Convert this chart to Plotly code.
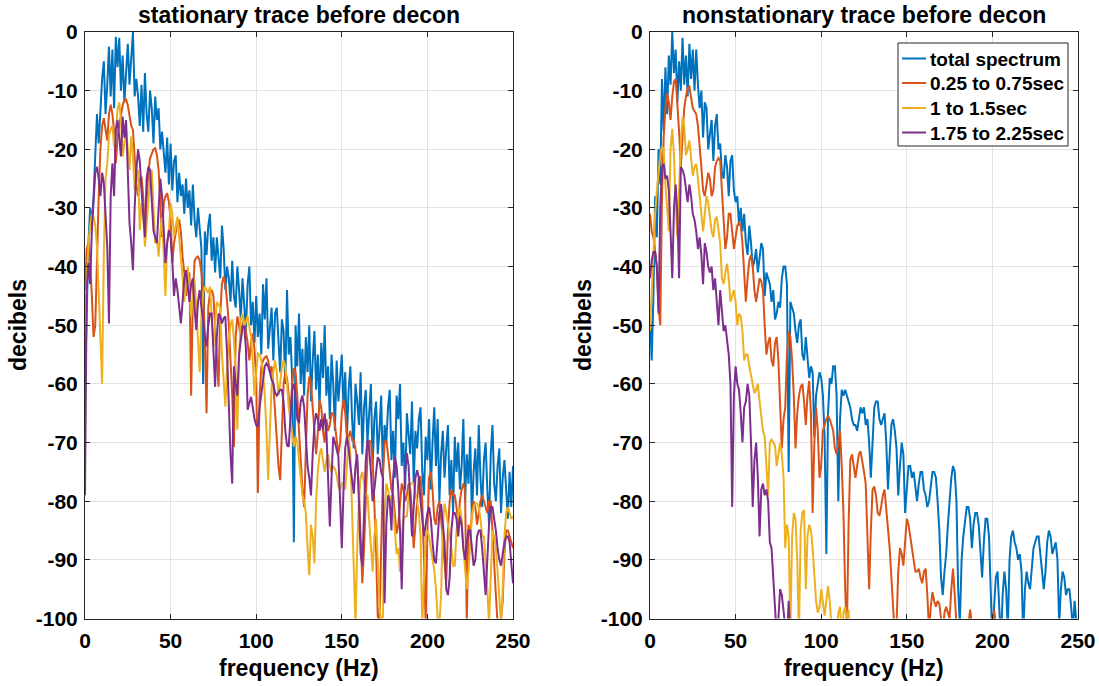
import plotly.graph_objects as go

# frequency grid (Hz), 1 Hz spacing
freq = list(range(0, 251))

# ---------------- stationary trace (left panel) ----------------
stat_total = [
    -60, -48, -36, -30, -33, -28, -22, -14, -19, -12,
    -8, -5, -14, -9, -2.5, -11, -3, -13, -0.8, -6,
    -1, -10, -4, -12, -7, -2, -9, -5, 0, -11,
    -8, -11, -16, -9, -17, -7, -14, -17, -10, -13,
    -19, -11, -15, -13, -20, -17, -20, -24, -18, -26,
    -19, -27, -22, -21, -29, -24, -28, -26, -31, -25,
    -30, -27, -33, -26, -32, -35, -30, -33, -37, -60,
    -34, -38, -33, -31, -39, -35, -41, -35, -39, -42,
    -33, -37, -44, -40, -42, -46, -39, -45, -47, -40,
    -44, -49, -42, -47, -51, -43, -40, -50, -46, -53,
    -45, -52, -48, -55, -43, -49, -42, -54, -50, -47,
    -56, -48, -47, -53, -58, -49, -51, -60, -44, -55,
    -52, -59, -87, -50, -57, -48, -60, -54, -62, -52,
    -58, -50, -63, -56, -51, -61, -55, -64, -53, -59,
    -50, -62, -57, -66, -55, -60, -68, -56, -63, -59,
    -55, -64, -58, -69, -61, -57, -66, -71, -60, -63,
    -67, -58, -72, -64, -61, -70, -65, -60, -74, -66,
    -63, -72, -68, -62, -75, -67, -70, -64, -61, -73,
    -68, -76, -62, -66, -60, -74, -70, -78, -65, -69,
    -72, -63, -77, -68, -71, -66, -64, -75, -79, -69,
    -73, -66, -78, -70, -64, -74, -66, -80, -72, -68,
    -76, -71, -67, -79, -73, -82, -69, -75, -70, -78,
    -74, -66, -80, -72, -77, -69, -83, -75, -71, -79,
    -67, -76, -81, -73, -70, -78, -84, -72, -67, -77,
    -80, -74, -71, -82, -76, -73, -79, -83, -75, -81,
    -74,
]

stat_early = [
    -44, -37, -36, -39, -45, -52, -50, -38, -28, -20,
    -16, -14.7, -17, -18.5, -14, -12.4, -14, -17, -22.4, -18,
    -16, -14, -12.5, -11.6, -11.5, -12.5, -14.4, -16, -16.7, -22,
    -26, -28, -25, -24.7, -28, -33.8, -28, -24, -21.5, -20.7,
    -20, -19.8, -21, -23.5, -29, -35, -29.2, -28, -27.5, -29,
    -32, -39.4, -36, -33.8, -32.5, -32, -34, -38.3, -41, -45,
    -42, -41, -62, -45, -39, -38.5, -38.3, -39, -41, -44,
    -52, -65, -47, -44.5, -44, -45, -50, -55, -60.5, -48,
    -43, -41.7, -43, -46, -49.7, -56, -62, -70.7, -52, -48.5,
    -50, -52.5, -50, -49, -51, -53, -56, -53, -51.4, -54,
    -59.3, -78.6, -62, -57, -56, -55.5, -55.3, -56, -58, -57,
    -60, -65, -70, -74, -76.4, -66, -60, -58, -59, -62,
    -66, -60, -57.3, -58, -62, -68, -74, -78, -81, -72,
    -62, -58.75, -60, -64, -68, -72, -68.4, -62.7, -64, -68,
    -70, -66, -68, -67, -65, -65, -67, -70, -72, -70,
    -65, -62.7, -65, -69, -69, -68, -69.6, -69.6, -71, -73.5,
    -78, -86, -94, -88, -80, -72, -69.6, -70, -73, -80,
    -88, -99.7, -101, -88, -76, -70, -69.6, -72, -75, -78,
    -79, -82, -85.5, -84, -80, -77, -78, -80, -79, -77,
    -78, -82, -88, -84, -79, -76, -75.8, -80, -90, -101,
    -85, -76, -75, -78, -83, -84, -81, -80, -83, -87,
    -91, -94, -85, -80, -78, -79, -79, -81, -84, -80,
    -78, -77, -78, -101, -84, -86, -82, -80, -81, -84,
    -82, -80, -79, -80, -81, -82, -80, -80, -85, -92,
    -96, -101, -103, -100, -97, -89, -85, -85, -86, -87,
    -88,
]

stat_mid = [
    -50, -44, -36, -33, -31, -31.5, -33, -36.6, -45, -54,
    -60, -38, -25, -22.4, -17.8, -16.5, -16, -19.5, -17, -13.3,
    -12, -15, -21.2, -19, -16.7, -20, -23.5, -17.8, -21, -27,
    -25, -23.5, -33.8, -29.2, -31, -36.6, -33, -29.2, -25, -23.5,
    -29, -36, -35, -38.3, -34, -31.5, -38, -45, -36, -33.8,
    -29.2, -31, -34.9, -33, -31.5, -35, -39.4, -42, -46, -43,
    -40, -44, -48.5, -45, -42.3, -47, -52, -58, -48, -44.5,
    -43.4, -44, -44.5, -43.4, -48, -53.6, -50, -46, -46.5, -47,
    -55, -60, -63.9, -57, -52.5, -50, -49, -52.5, -58, -67.8,
    -55, -49, -48, -50, -49.5, -48.4, -50, -52, -56, -62,
    -58, -54.8, -55, -56, -58, -62, -68, -76.4, -68, -60.5,
    -58, -56, -58, -62, -60, -57, -56, -57, -60, -64,
    -66, -68, -70.7, -69, -70, -73, -76, -79, -80, -82,
    -88, -92.6, -84, -86, -90.6, -80, -75, -72, -71, -73,
    -75, -73, -72, -74, -75, -74, -74.5, -75.5, -77.5, -78,
    -77, -77, -78, -74, -69, -72, -82, -92, -101, -88,
    -80, -76, -75, -77, -79, -79, -83, -88, -92, -86,
    -83, -90, -98, -101, -99.7, -82, -77, -78, -80, -79,
    -81, -85, -89, -88, -92, -86, -83, -82.6, -82.6, -79,
    -77, -77, -77, -79, -80, -82, -86, -101, -92, -86,
    -85, -86, -88, -90, -91.7, -95, -100, -101, -96, -84,
    -80.4, -82, -84, -86, -88, -91, -91, -85, -82, -81,
    -83, -88, -92, -95, -92, -86, -82.6, -81, -80.4, -80.4,
    -81, -83, -86, -86, -90, -95, -101, -92, -85, -86,
    -88, -92, -96, -101, -95, -86, -82, -81, -82, -83,
    -82.6,
]

stat_late = [
    -79, -44, -39.4, -43, -33.8, -28, -24, -23, -25, -28,
    -24, -25.8, -32, -36.6, -49.7, -28, -22.4, -28, -16.7, -15,
    -18, -21.2, -14.4, -18, -15, -24, -32.6, -36, -40.6, -30,
    -23.5, -20, -22, -27, -31, -35, -25, -23, -23.5, -28,
    -33.8, -35, -36, -30, -25, -28, -34, -39.4, -36, -33.8,
    -35, -39, -45, -42, -44, -47, -49.7, -46, -42, -40.6,
    -44, -46, -43, -42, -47, -50.8, -46, -44, -47, -49,
    -52, -53.6, -50, -48, -48, -55, -60.5, -52, -48, -48.5,
    -49.7, -48.8, -48.5, -55, -65, -72, -77, -57, -60, -62,
    -55, -52.5, -50.2, -50.2, -54, -64.4, -63, -62.2, -64, -66,
    -67, -67.3, -64, -61.6, -59, -57, -56.5, -57, -58, -59.3,
    -60, -61.5, -62, -61.5, -61, -61, -63, -68, -70.5, -70.7,
    -66, -61, -60, -62, -66, -66.7, -63, -62, -64, -69,
    -74, -76, -79, -72, -67, -65, -66, -68, -66, -67.8,
    -65, -68, -76, -84.3, -76, -69, -70, -71, -72.4, -80,
    -88, -78, -71, -69, -71, -74, -77, -78.7, -74, -72,
    -80, -89, -91, -82, -73, -69.6, -71, -75, -80, -78,
    -75, -72.5, -73, -75, -76, -97.4, -84, -79, -80, -85,
    -76, -72.4, -74, -78, -85, -95, -83, -75, -71.8, -74,
    -80, -86, -81, -76, -74.7, -76, -80, -83, -86, -84,
    -82, -81, -83, -87, -90, -90.6, -86, -82, -80.5, -84,
    -87, -95, -96, -93, -85, -82, -82, -83, -86, -82.6,
    -84, -88, -90, -87, -85, -85, -88, -91, -90, -86,
    -85, -85, -88, -93, -96, -90, -84, -81, -81, -83,
    -85, -88, -90, -91, -89, -87, -86, -86, -87, -90,
    -94,
]

# ---------------- nonstationary trace (right panel) ----------------
nonstat_total = [
    -48, -56, -45, -28, -35, -20, -26, -8, -17, -6,
    -14, -4, -9, 0, -7, -3, -12, -5, -10, -1,
    -9, -4, -11, -2, -8, -3, -10, -3, -9, -13,
    -10, -18, -12, -13, -20, -17, -15, -22, -16, -14,
    -20, -19, -24, -25, -21, -23, -28, -22, -21, -27,
    -29, -28, -33, -30, -34, -31, -36, -38, -33, -36,
    -40, -39, -37, -41, -38, -36, -37, -45, -41, -42,
    -43, -46, -44, -49, -48, -46, -47, -42, -40, -40,
    -43, -75, -46, -47, -48, -51, -53, -50, -49, -55,
    -56, -52, -55, -59, -57, -58, -69, -62, -60, -58,
    -59, -62, -69, -89, -65, -59, -60, -57, -57, -62,
    -80, -66, -61, -62, -61, -62, -63, -64, -66, -67,
    -67, -68, -66, -64, -65, -64, -67, -66, -70, -76,
    -70, -64, -63, -63, -66, -67, -66, -65, -70, -78,
    -72, -67, -66, -68, -71, -79, -74, -70, -72, -82,
    -78, -74, -74, -76, -75, -78, -80, -77, -75, -75,
    -78, -79, -81, -80, -77, -75, -75, -76, -80, -85,
    -93, -96, -92, -89, -84, -79, -76, -74, -75, -80,
    -95, -101, -90, -86, -83, -81, -81, -83, -88, -84,
    -82, -82, -84, -88, -93, -87, -83, -83, -86, -95,
    -104, -98, -93, -92, -97, -104, -96, -92, -95, -102,
    -90, -86, -85, -87, -88, -90, -89, -92, -103, -95,
    -92, -94, -95, -91, -88, -87, -86, -86, -89, -92,
    -95, -92, -87, -85, -86, -89, -88, -87, -90, -101,
    -95, -92, -93, -96, -95, -95, -98, -102, -97, -101,
    -104,
]

nonstat_early = [
    -31, -34, -35, -38, -40, -47, -50, -28, -18, -13,
    -10.5, -12, -15, -11, -8.5, -8, -12, -17, -23, -17,
    -13, -11, -9.5, -9.3, -11, -13, -13.5, -14, -16, -19,
    -23, -27, -28, -26, -24, -25, -28, -27, -23, -22,
    -21.5, -22, -27, -33, -37, -35, -31, -31, -34, -37,
    -35, -33, -32.5, -33, -36, -42, -46, -42, -39, -38,
    -40, -44, -46, -44, -42, -42.5, -44, -50, -55, -53,
    -52, -56, -57, -53, -52, -56, -65, -71, -66, -64,
    -55, -51, -52, -56, -62, -71, -65, -62, -60.5, -60,
    -63, -67, -62, -59.5, -65, -82, -70, -64, -68, -76,
    -74, -68, -67, -66, -65.5, -66, -67, -68, -71, -72,
    -70, -68, -74, -82, -95, -102, -84, -73, -72, -74,
    -76, -74, -72, -71.5, -73, -75, -77, -85, -95, -85,
    -78, -77.5, -79, -82, -82.5, -81, -79, -78, -81, -85,
    -88, -93, -98, -103, -101, -92, -88, -89, -91, -86,
    -83, -84, -86, -88, -90, -92, -92, -91.5, -93, -94,
    -92, -91.5, -96, -102, -98, -95.5, -97, -98, -97, -97.5,
    -100, -103, -99, -98, -99, -100, -95, -91.5, -96, -103,
    -106, -106, -105, -104, -106, -104, -101, -98.5, -101, -105,
    -107, -107, -106, -106, -107, -107, -106, -106, -105, -104,
    -104, -98.5, -101, -106,
]

nonstat_mid = [
    -51, -44, -37, -31, -27, -24, -21, -19.5, -20, -26,
    -31, -34, -20, -16.5, -21, -30, -35, -26, -19, -14.5,
    -16, -21, -20, -18.5, -21, -24.5, -23, -22.5, -25, -28,
    -31, -34, -31, -28, -29, -31.5, -34, -35, -32, -31.5,
    -34, -36, -42, -43, -41, -39.5, -42, -46, -45, -44,
    -46, -50, -48, -48.5, -51, -56, -55, -55, -57, -58.6,
    -60, -61.6, -61, -60, -63, -66, -68, -69, -74, -79,
    -70, -69.5, -70, -70.5, -74, -72, -70, -72, -76, -88,
    -84, -86, -102, -86, -82, -83, -90, -103, -85, -82,
    -81.5, -95, -86, -84, -85, -88, -93, -97, -99, -98,
    -95, -97, -99.5, -97, -94.5, -97, -103, -106, -106, -104,
    -99, -98, -103, -99, -98, -101, -98.5, -104,
]

nonstat_late = [
    -42, -39, -37.5, -37.5, -40, -48, -30, -23, -22.5, -25,
    -24.5, -27, -34, -42, -30, -26, -31, -42, -23, -23.5,
    -24.5, -27, -29, -26, -28, -31, -32, -34, -37, -35,
    -38, -43, -36, -37.5, -40, -41, -40, -44, -42, -46,
    -50, -44, -48, -51, -50, -53, -55, -60, -81, -62,
    -57, -60, -61, -65, -70, -64, -63, -60, -62, -70,
    -81, -73, -70, -76, -86, -78, -77, -79, -78, -80,
    -87, -88, -93, -97, -103, -100, -95, -96, -99, -102,
    -104, -97, -103,
]

series_names = ["total spectrum", "0.25 to 0.75sec", "1 to 1.5sec", "1.75 to 2.25sec"]
series_colors = ["#0072BD", "#D95319", "#EDB120", "#7E2F8E"]

left_data = [stat_total, stat_early, stat_mid, stat_late]
right_data = [nonstat_total, nonstat_early, nonstat_mid, nonstat_late]

FONT = "Liberation Sans, Arial, Helvetica, sans-serif"
W, H = 1099, 686

fig = go.Figure()
for vals, name, col in zip(left_data, series_names, series_colors):
    fig.add_trace(go.Scatter(x=freq[:len(vals)], y=vals, mode="lines", name=name,
                             line=dict(color=col, width=2), showlegend=False,
                             xaxis="x", yaxis="y"))
for vals, name, col in zip(right_data, series_names, series_colors):
    fig.add_trace(go.Scatter(x=freq[:len(vals)], y=vals, mode="lines", name=name,
                             line=dict(color=col, width=2), showlegend=False,
                             xaxis="x2", yaxis="y2"))

xticks = [0, 50, 100, 150, 200, 250]
yticks = list(range(-100, 1, 10))

def xax(domain, anchor):
    return dict(domain=domain, anchor=anchor, range=[0, 250], tickvals=xticks,
                ticktext=[str(v) for v in xticks], showgrid=True, gridcolor="#e2e2e2",
                gridwidth=1, showline=True, linecolor="#262626", linewidth=1,
                mirror="ticks", ticks="inside", ticklen=5, tickcolor="#262626",
                zeroline=False, ticklabelstandoff=3, automargin=False,
                tickfont=dict(family=FONT, size=21, color="#000000", weight="bold"))

def yax(domain, anchor):
    return dict(domain=domain, anchor=anchor, range=[-100, 0], tickvals=yticks,
                ticktext=[str(v) for v in yticks], showgrid=True, gridcolor="#e2e2e2",
                gridwidth=1, showline=True, linecolor="#262626", linewidth=1,
                mirror="ticks", ticks="inside", ticklen=5, tickcolor="#262626",
                zeroline=False, ticklabelstandoff=2, automargin=False,
                tickfont=dict(family=FONT, size=21, color="#000000", weight="bold"))

ydom = [1 - 618.5 / H, 1 - 32 / H]
x1dom = [85 / W, 513 / W]
x2dom = [650 / W, 1078 / W]

fig.update_layout(
    template="none",
    width=W, height=H, margin=dict(l=0, r=0, t=0, b=0, pad=0, autoexpand=False),
    paper_bgcolor="white", plot_bgcolor="white",
    font=dict(family=FONT, color="#000000"),
    xaxis=xax(x1dom, "y"), yaxis=yax(ydom, "x"),
    xaxis2=xax(x2dom, "y2"), yaxis2=yax(ydom, "x2"),
    showlegend=False,
)

def ann(text, x, y, size, angle=0, xanchor="center"):
    fig.add_annotation(text=text, x=x, y=y, xref="paper", yref="paper",
                       showarrow=False, textangle=angle, xanchor=xanchor, yanchor="middle",
                       font=dict(family=FONT, size=size, color="#000000", weight="bold"))

ann("stationary trace before decon", (85 + 513) / 2 / W, 1 - 15 / H, 23)
ann("nonstationary trace before decon", (650 + 1078) / 2 / W, 1 - 15 / H, 23)
ann("frequency (Hz)", (85 + 513) / 2 / W, 1 - 668 / H, 23)
ann("frequency (Hz)", (650 + 1078) / 2 / W, 1 - 668 / H, 23)
ann("decibels", 18 / W, 1 - 325 / H, 23, -90)
ann("decibels", 583 / W, 1 - 325 / H, 23, -90)

# legend (right panel): box, line samples and labels built from the series lists
box_l, box_r, box_t, box_b = 898, 1068, 43, 146
fig.add_shape(type="rect", xref="paper", yref="paper",
              x0=box_l / W, x1=box_r / W, y0=1 - box_b / H, y1=1 - box_t / H,
              line=dict(color="#262626", width=1), fillcolor="white", layer="above")
row_y = [58.5, 83, 108, 132.5]
for name, col, ry in zip(series_names, series_colors, row_y):
    fig.add_shape(type="line", xref="paper", yref="paper",
                  x0=902 / W, x1=926 / W, y0=1 - ry / H, y1=1 - ry / H,
                  line=dict(color=col, width=2), layer="above")
    ann(name, 928 / W, 1 - (ry + 0.5) / H, 19, xanchor="left")

fig.write_html("out.html")
